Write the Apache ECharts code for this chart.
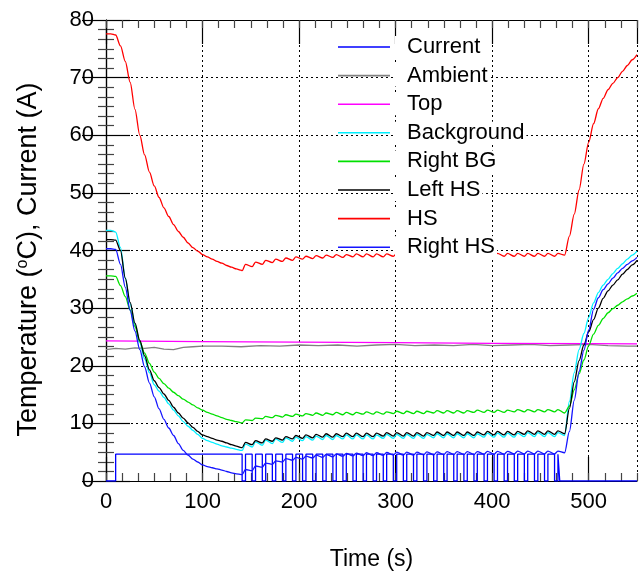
<!DOCTYPE html>
<html>
<head>
<meta charset="utf-8">
<script src="https://cdn.jsdelivr.net/npm/echarts@6/dist/echarts.min.js"></script>
<style>html,body{margin:0;padding:0;background:#fff}#c{width:641px;height:576px}</style>
</head>
<body>
<div id="c"></div>
<script>
// ---------- data ----------
var seriesNames = ['Current','Ambient','Top','Background','Right BG','Left HS','HS','Right HS'];
var xTicks = [0,100,200,300,400,500];
var yTicks = [0,10,20,30,40,50,60,70,80];

// cooling-down phase sample times (s)
var tDecay = [0,5,10,15,20,25,30,35,40,45,50,55,60,65,70,75,80,85,90,95,100,105,110,115,120,125,130,135,140];
// pulsed phase: current switches off at dipStart, back on at dipEnd
var dipStart = [141.0,151.4,161.9,172.3,182.8,193.2,203.6,214.1,224.5,235.0,245.4,255.8,266.3,276.7,287.2,297.6,
                308.0,318.5,328.9,339.4,349.8,360.2,370.7,381.1,391.6,402.0,412.4,422.9,433.3,443.8,454.2,464.6];
var dipEnd   = [144.5,154.9,165.4,175.8,186.3,196.7,207.1,217.6,228.0,238.5,248.9,259.3,269.8,280.2,290.7,301.1,
                311.5,322.0,332.4,342.9,353.3,363.7,374.2,384.6,395.1,405.5,415.9,426.4,436.8,447.3,457.7,468.1];
// warm-up phase sample times (s)
var tRise = [475,480,485,490,495,500,505,510,515,520,525,530,535,540,545,550];

// Current (A)
var currentLevel = 4.65;
var currentOnAt = 10;
var currentOffAt = 470;
var tEnd = 550;

// HS
var hsDecay  = [77.6,77.6,77.4,75.5,72.8,69.2,64.5,60.0,56.6,53.6,51.2,49.2,47.4,45.9,44.5,43.3,42.3,41.3,40.5,39.9,39.3,38.9,38.5,38.1,37.8,37.4,37.1,36.8,36.6];
var hsTrough = [36.5,37.2,37.6,37.9,38.1,38.3,38.5,38.6,38.7,38.8,38.8,38.9,38.9,38.9,38.9,39.0,39.0,39.0,39.0,39.0,39.0,39.0,39.0,39.0,39.0,39.0,39.0,39.0,39.0,39.0,39.0,39.0];
var hsPeak   = [37.6,38.0,38.3,38.5,38.7,38.9,39.0,39.1,39.2,39.3,39.3,39.4,39.4,39.4,39.4,39.5,39.5,39.5,39.5,39.5,39.5,39.5,39.5,39.5,39.5,39.5,39.5,39.5,39.5,39.5,39.5,39.5];
var hsRise   = [39.2,42.5,46.3,50.5,55.0,58.8,62.0,64.6,66.4,67.9,69.0,70.0,71.1,72.1,73.1,74.0];

// Left HS
var lhsDecay  = [41.9,41.9,41.8,40.0,35.2,31.0,27.4,24.4,21.7,19.3,17.4,16.2,15.1,14.0,12.8,11.8,10.9,10.1,9.3,8.6,8.0,7.7,7.4,7.1,6.9,6.6,6.3,6.05,5.8];
var lhsTrough = [5.8,6.3,6.6,6.9,7.1,7.3,7.4,7.5,7.6,7.6,7.7,7.7,7.7,7.7,7.8,7.8,7.8,7.8,7.8,7.9,7.9,7.9,7.9,7.9,8.0,8.0,8.0,8.0,8.1,8.1,8.1,8.1];
var lhsPeak   = [6.7,7.0,7.3,7.5,7.7,7.9,8.0,8.1,8.2,8.2,8.3,8.3,8.3,8.3,8.4,8.4,8.4,8.4,8.4,8.5,8.5,8.5,8.5,8.5,8.6,8.6,8.6,8.6,8.7,8.7,8.7,8.7];
var lhsRise   = [8.2,12.6,17.2,20.9,23.6,25.9,28.0,30.0,31.7,33.0,34.0,34.9,35.9,36.7,37.5,38.3];

// Background
var bgDecay  = [43.5,43.5,43.2,40.5,35.2,30.8,27.2,24.0,21.2,18.8,16.7,15.6,14.5,13.4,12.3,11.3,10.3,9.5,8.8,8.1,7.4,7.0,6.7,6.4,6.1,5.9,5.7,5.5,5.3];
var bgTrough = [5.3,5.9,6.2,6.5,6.7,6.9,7.0,7.1,7.2,7.2,7.3,7.3,7.3,7.3,7.4,7.4,7.4,7.4,7.4,7.5,7.5,7.5,7.5,7.5,7.6,7.6,7.6,7.6,7.7,7.7,7.7,7.7];
var bgPeak   = [6.4,6.8,7.1,7.3,7.5,7.6,7.7,7.8,7.9,7.9,8.0,8.0,8.0,8.0,8.1,8.1,8.1,8.1,8.1,8.2,8.2,8.2,8.2,8.2,8.3,8.3,8.3,8.3,8.4,8.4,8.4,8.4];
var bgRise   = [7.9,13.8,18.8,22.8,25.6,28.4,30.9,32.7,34.0,35.0,36.0,36.9,37.7,38.5,39.2,39.9];

// Right BG
var rbgDecay  = [35.6,35.6,35.5,33.9,32.0,29.7,26.8,24.2,22.2,20.4,18.9,17.8,16.9,16.1,15.4,14.8,14.2,13.7,13.2,12.7,12.3,11.9,11.6,11.3,11.0,10.7,10.5,10.3,10.1];
var rbgTrough = [10.1,10.5,10.8,11.0,11.1,11.2,11.3,11.4,11.4,11.5,11.5,11.5,11.6,11.6,11.6,11.7,11.7,11.7,11.7,11.8,11.8,11.8,11.8,11.9,11.9,11.9,11.9,12.0,12.0,12.0,12.0,12.0];
var rbgPeak   = [10.6,10.9,11.2,11.4,11.5,11.6,11.7,11.8,11.8,11.9,11.9,11.9,12.0,12.0,12.0,12.1,12.1,12.1,12.1,12.2,12.2,12.2,12.2,12.3,12.3,12.3,12.3,12.4,12.4,12.4,12.4,12.4];
var rbgRise   = [11.8,13.0,15.8,18.6,21.0,23.5,25.5,27.0,28.2,29.2,29.9,30.5,31.1,31.6,32.1,32.6];

// Right HS
var rhsDecay  = [40.3,40.3,40.2,37.6,33.6,29.6,26.0,22.8,19.8,17.0,14.6,12.5,10.7,9.2,7.9,6.5,5.3,4.5,3.8,3.3,2.8,2.5,2.3,2.1,1.9,1.65,1.4,1.25,1.1];
var rhsTrough = [1.1,1.8,2.4,2.9,3.3,3.6,3.8,4.0,4.1,4.2,4.3,4.35,4.4,4.4,4.45,4.5,4.5,4.5,4.55,4.55,4.6,4.6,4.6,4.6,4.65,4.65,4.65,4.7,4.7,4.7,4.7,4.7];
var rhsPeak   = [2.0,2.6,3.1,3.5,3.9,4.1,4.3,4.5,4.6,4.7,4.8,4.85,4.9,4.9,4.95,5.0,5.0,5.0,5.05,5.05,5.1,5.1,5.1,5.1,5.15,5.15,5.15,5.2,5.2,5.2,5.2,5.2];
var rhsRise   = [4.9,8.6,14.0,19.0,22.7,26.2,29.8,31.8,33.2,34.2,35.2,36.1,36.9,37.6,38.2,38.8];

// Ambient
var tAmb = [0,10,20,30,40,50,60,70,80,90,100,120,140,160,180,200,220,240,260,280,300,320,340,360,380,400,420,440,460,480,500,520,540,550];
var ambVals = [22.8,23.0,22.9,23.1,23.0,23.2,22.9,22.8,23.2,23.3,23.4,23.4,23.3,23.5,23.4,23.6,23.5,23.6,23.4,23.6,23.7,23.5,23.6,23.5,23.7,23.5,23.6,23.7,23.5,23.6,23.7,23.5,23.4,23.4];

// Top
var tTop = [0,100,200,300,400,500,550];
var topVals = [24.3,24.2,24.1,24.0,23.9,23.85,23.8];

// ---------- build ----------
function pairs(ts, vs){ return ts.map(function(t,i){ return [t, vs[i]]; }); }
function buildTemp(decay, troughs, peaks, rise){
  var d = pairs(tDecay, decay);
  for (var k = 0; k < dipStart.length; k++){
    d.push([dipStart[k], troughs[k]]);
    d.push([dipEnd[k], peaks[k]]);
  }
  return d.concat(pairs(tRise, rise));
}
function buildCurrent(){
  var d = [[0,0],[currentOnAt,0],[currentOnAt,currentLevel]];
  for (var k = 0; k < dipStart.length; k++){
    d.push([dipStart[k], currentLevel]); d.push([dipStart[k], 0]);
    d.push([dipEnd[k], 0]); d.push([dipEnd[k], currentLevel]);
  }
  d.push([currentOffAt, currentLevel]); d.push([currentOffAt, 0]); d.push([tEnd, 0]);
  return d;
}

var colors = {
  'Current':'#0000ff','Ambient':'#808080','Top':'#ff00ff','Background':'#00f0ff',
  'Right BG':'#00e000','Left HS':'#000000','HS':'#ff0000','Right HS':'#1414ff'
};
var dataMap = {
  'Current': buildCurrent(),
  'Ambient': pairs(tAmb, ambVals),
  'Top': pairs(tTop, topVals),
  'Background': buildTemp(bgDecay, bgTrough, bgPeak, bgRise),
  'Right BG': buildTemp(rbgDecay, rbgTrough, rbgPeak, rbgRise),
  'Left HS': buildTemp(lhsDecay, lhsTrough, lhsPeak, lhsRise),
  'HS': buildTemp(hsDecay, hsTrough, hsPeak, hsRise),
  'Right HS': buildTemp(rhsDecay, rhsTrough, rhsPeak, rhsRise)
};
var smoothed = { 'Background':1, 'Right BG':1, 'Left HS':1, 'HS':1, 'Right HS':1 };

var FONT = "'Liberation Sans', Arial, sans-serif";
var series = seriesNames.map(function(n){
  return {
    name: n, type: 'line', data: dataMap[n], symbol: 'none', showSymbol: false,
    smooth: smoothed[n] ? 0.3 : false, smoothMonotone: 'x',
    xAxisIndex: 0, yAxisIndex: 0,
    lineStyle: { color: colors[n], width: 1.3 }, itemStyle: { color: colors[n] },
    animation: false
  };
});

var xMax = 550, yMax = 80;
function xAx(pos, major, labels){
  return {
    type: 'value', position: pos, min: 0, max: xMax,
    interval: major ? 100 : 100/6,
    axisLine: { show: major, lineStyle: { color: '#000', width: 1.2 } },
    axisTick: { show: true, inside: true, length: major ? 24 : 8, lineStyle: { color: major ? '#000' : '#444', width: 1.2 } },
    axisLabel: { show: labels, showMaxLabel: false, color: '#000', fontSize: 22, fontFamily: FONT, margin: 10 },
    splitLine: { show: major && labels, lineStyle: { color: '#000', type: [2, 3], width: 1 } },
    name: labels ? 'Time (s)' : '', nameLocation: 'middle', nameGap: 67,
    nameTextStyle: { color: '#000', fontSize: 23, fontFamily: FONT }
  };
}
function yAx(pos, labels){
  return {
    type: 'value', position: pos, min: 0, max: yMax, interval: 10,
    axisLine: { show: true, lineStyle: { color: '#000', width: 1.2 } },
    axisTick: { show: true, inside: true, length: 24, lineStyle: { color: '#000', width: 1.2 } },
    minorTick: { show: true, splitNumber: 6, length: 8, lineStyle: { color: '#444', width: 1.2 } },
    axisLabel: { show: labels, color: '#000', fontSize: 22, fontFamily: FONT, margin: 12 },
    splitLine: { show: labels, lineStyle: { color: '#000', type: [2, 3], width: 1 } },
    name: labels ? 'Temperature ({sup|o}C), Current (A)' : '', nameLocation: 'middle', nameGap: 64,
    nameTextStyle: { color: '#000', fontSize: 27, fontFamily: FONT, padding: [0, 18, 0, 0],
      rich: { sup: { fontSize: 16, verticalAlign: 'top', color: '#000', fontFamily: FONT, padding: [0,0,9,0] } } }
  };
}

var chart = echarts.init(document.getElementById('c'), null, { renderer: 'canvas' });
chart.setOption({
  animation: false,
  backgroundColor: '#fff',
  grid: { left: 106, right: 4, top: 20, bottom: 95, containLabel: false },
  xAxis: [ xAx('bottom', true, true), xAx('bottom', false, false), xAx('top', true, false), xAx('top', false, false) ],
  yAxis: [ yAx('left', true), yAx('right', false) ],
  legend: {
    orient: 'vertical', left: 338, top: 36, padding: 0, itemWidth: 52, itemHeight: 1.6, itemGap: 6.6,
    icon: 'rect',
    data: seriesNames,
    textStyle: { color: '#000', fontSize: 22, fontFamily: FONT, lineHeight: 22, backgroundColor: '#fff', padding: [0, 2, 0, 12] }
  },
  series: series
});
</script>
</body>
</html>
